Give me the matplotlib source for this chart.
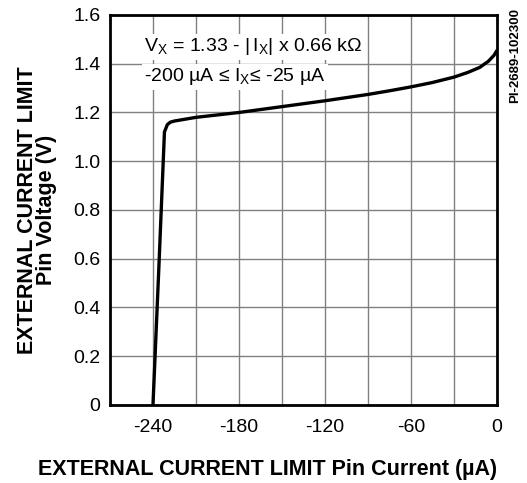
import matplotlib
matplotlib.use("Agg")
import matplotlib.pyplot as plt
import numpy as np

plt.rcParams['font.family'] = ['Liberation Sans', 'DejaVu Sans']
plt.rcParams['axes.unicode_minus'] = False

# curve
current = [-240, -236, -232, -230, -228, -225, -220, -210, -195, -180, -165, -150,
           -135, -120, -105, -90, -75, -60, -45, -30, -20, -12, -6, -2, 0]
voltage = [0.0, 0.55, 1.12, 1.15, 1.16, 1.165, 1.17, 1.18, 1.19, 1.20, 1.212, 1.224,
           1.236, 1.248, 1.261, 1.274, 1.289, 1.305, 1.323, 1.345, 1.365, 1.385, 1.41, 1.435, 1.455]

xticks = [-240, -180, -120, -60, 0]
yticks = [0, 0.2, 0.4, 0.6, 0.8, 1.0, 1.2, 1.4, 1.6]
ytick_labels = ['0', '0.2', '0.4', '0.6', '0.8', '1.0', '1.2', '1.4', '1.6']

fig = plt.figure(figsize=(5.27, 4.83), dpi=100)
ax = fig.add_axes([0.2087, 0.1615, 0.7343, 0.8075])

ax.plot(current, voltage, color='black', lw=2.4, solid_capstyle='butt', zorder=3)

ax.set_xlim(-270, 0)
ax.set_ylim(0, 1.6)
ax.set_xticks(np.arange(-270, 1, 30), minor=True)
ax.set_xticks(xticks)
ax.set_yticks(yticks)
ax.set_yticklabels(ytick_labels)
ax.grid(True, which='both', color='#808080', lw=1)
ax.set_axisbelow(True)
ax.tick_params(which='both', length=0, labelsize=14)
ax.tick_params(axis='x', pad=10)
ax.tick_params(axis='y', pad=7)
for s in ax.spines.values():
    s.set_linewidth(2)

# axis titles placed by hand (they sit off-centre in the original)
fig.text(268 / 527, 1 - 469 / 483,
         'EXTERNAL CURRENT LIMIT Pin Current (\u00b5A)',
         fontsize=15.5, fontweight='bold', ha='center', va='center')
fig.text(37 / 527, 1 - 210 / 483, 'EXTERNAL CURRENT LIMIT\nPin Voltage (V)',
         fontsize=15.5, fontweight='bold', rotation=90, ha='center', va='center',
         linespacing=0.9, multialignment='center')

bbox = dict(facecolor='white', edgecolor='none', pad=2)
ax.text(-246, 1.469, '$\\mathregular{V_X}$ = 1.33 - $\\mathregular{|\\,I_X|}$ x 0.66 k\u03a9',
        fontsize=14, va='center', ha='left', bbox=bbox, zorder=4)
ax.text(-246, 1.346, '-200 \u00b5A \u2264 $\\mathregular{I_X}$\u2264 -25 \u00b5A',
        fontsize=14, va='center', ha='left', bbox=bbox, zorder=4)

fig.text(0.977, 0.886, 'PI-2689-102300', rotation=90, fontsize=9.5,
         fontweight='bold', ha='center', va='center')

fig.savefig('out.png', dpi=100)
